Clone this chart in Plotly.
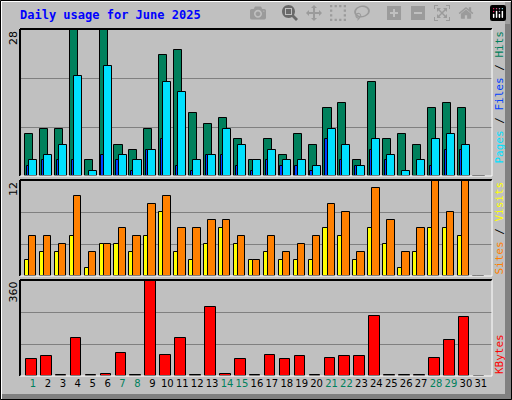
import plotly.graph_objects as go

days = list(range(1, 32))
hits  = [8,9,9,28,3,28,6,5,9,23,24,12,10,11,7,3,7,4,8,6,13,14,3,18,7,8,6,13,14,13,0]
files = [3,4,6,19,1,21,4,3,5,18,16,3,4,9,6,3,5,3,3,2,9,6,2,7,4,1,3,7,8,6,0]
pages = [2,3,3,3,0,4,3,1,5,7,2,1,4,4,2,1,3,2,2,1,7,3,2,5,3,0,0,2,5,5,0]
visits = [5,5,4,10,3,4,6,5,9,10,6,6,7,7,5,2,5,3,4,5,9,8,3,11,7,3,6,12,8,12,0]
sites  = [2,3,3,5,1,4,4,3,5,8,3,2,4,6,4,2,3,2,2,2,6,5,2,6,4,1,3,6,6,5,0]
kbytes = [64,76,2,143,2,8,88,2,360,80,143,2,257,8,64,2,80,64,76,2,68,76,76,226,2,2,2,68,135,222,0]
weekend = {1,7,8,14,15,21,22,28,29}
max_hits, max_visits, max_kb = 28, 12, 360

W, H = 512, 400
L, R, T, B = 20, 20, 29, 24
PW, PH = W - L - R, H - T - B
def px(x): return (x - L) / PW
def py(y): return (H - B - y) / PH

fig = go.Figure()
ln = dict(color="black", width=1)
fig.add_bar(x=days, y=hits, width=0.54, offset=-0.54, marker=dict(color="#00805c", line=ln), xaxis="x", yaxis="y")
fig.add_bar(x=days, y=files, width=0.54, offset=-0.27, marker=dict(color="#00e0ff", line=ln), xaxis="x", yaxis="y")
fig.add_bar(x=days, y=pages, width=0.15, offset=-0.42, marker=dict(color="#0040ff", line=ln), xaxis="x", yaxis="y")
fig.add_bar(x=days, y=sites, width=0.3, offset=-0.54, marker=dict(color="#ffff00", line=ln), xaxis="x2", yaxis="y2")
fig.add_bar(x=days, y=visits, width=0.5, offset=-0.27, marker=dict(color="#ff8000", line=ln), xaxis="x2", yaxis="y2")
fig.add_bar(x=days, y=kbytes, width=0.71, offset=-0.47, marker=dict(color="#ff0000", line=ln), xaxis="x3", yaxis="y3")

xr = [0.13, 31.75]
common_x = dict(range=xr, showgrid=False, zeroline=False, fixedrange=True, automargin=False)
doms = [(py(176), py(29)), (py(276), py(180)), (py(376), py(280))]
maxes = [max_hits, max_visits, max_kb]
grid = dict(showgrid=True, gridcolor="#808080", gridwidth=1, zeroline=False, showticklabels=False, ticks="", automargin=False)
fig.update_layout(
    width=W, height=H, margin=dict(l=L, r=R, t=T, b=B, autoexpand=False),
    paper_bgcolor="#c0c0c0", plot_bgcolor="#c0c0c0",
    barmode="overlay", showlegend=False, bargap=0,
    font=dict(family="DejaVu Sans Mono", size=11, color="black"),
    xaxis=dict(common_x, anchor="y", showticklabels=False),
    xaxis2=dict(common_x, anchor="y2", showticklabels=False, matches="x"),
    xaxis3=dict(common_x, anchor="y3", tickmode="array", tickvals=days, tickangle=0,
                ticktext=[f'<span style="color:{"#00805c" if d in weekend else "black"}">{d}</span>' for d in days],
                ticks="", tickfont=dict(size=10, family="DejaVu Sans")),
    yaxis=dict(grid, domain=doms[0], range=[0, max_hits], tickvals=[max_hits/3, 2*max_hits/3]),
    yaxis2=dict(grid, domain=doms[1], range=[0, max_visits], tickvals=[max_visits/3, 2*max_visits/3]),
    yaxis3=dict(grid, domain=doms[2], range=[0, max_kb], tickvals=[max_kb/3, 2*max_kb/3]),
)

shapes = []
shapes.append(dict(type="rect", xref="paper", yref="paper", x0=px(505), x1=px(512), y0=py(400), y1=py(0), fillcolor="#808080", line=dict(width=0)))
shapes.append(dict(type="rect", xref="paper", yref="paper", x0=px(0), x1=px(512), y0=py(400), y1=py(394), fillcolor="#808080", line=dict(width=0)))
shapes.append(dict(type="line", xref="paper", yref="paper", x0=px(1), x1=px(1), y0=py(399), y1=py(1), line=dict(color="white", width=2)))
shapes.append(dict(type="line", xref="paper", yref="paper", x0=px(1), x1=px(511), y0=py(1), y1=py(1), line=dict(color="white", width=2)))
shapes.append(dict(type="rect", xref="paper", yref="paper", x0=px(0.5), x1=px(511.5), y0=py(399.5), y1=py(0.5), line=dict(color="black", width=1)))
for d0, d1 in doms:
    shapes.append(dict(type="line", xref="paper", yref="paper", x0=0, x1=1, y0=d1, y1=d1, line=dict(color="black", width=2)))
    shapes.append(dict(type="line", xref="paper", yref="paper", x0=0, x1=0, y0=d0, y1=d1, line=dict(color="black", width=2)))
    shapes.append(dict(type="line", xref="paper", yref="paper", x0=1, x1=1, y0=d0, y1=d1, line=dict(color="white", width=1)))
    shapes.append(dict(type="line", xref="paper", yref="paper", x0=0, x1=1, y0=d0, y1=d0, line=dict(color="white", width=1)))
fig.update_layout(shapes=shapes)

ann = [dict(text="<b>Daily usage for June 2025</b>", x=px(18), y=py(15), xref="paper", yref="paper",
            xanchor="left", yanchor="middle", showarrow=False, font=dict(color="#0000ff", size=12, family="DejaVu Sans Mono"))]
for (d0, d1), m in zip(doms, maxes):
    ann.append(dict(text=str(m), x=px(13), y=d1, xref="paper", yref="paper", xanchor="center", yanchor="top",
                    textangle=-90, showarrow=False, font=dict(size=11, family="DejaVu Sans")))
right = [
    ('<span style="color:#00e0ff">Pages</span> / <span style="color:#0040ff">Files</span> / <span style="color:#00805c">Hits</span>', doms[0], "top"),
    ('<span style="color:#ff8000">Sites</span> / <span style="color:#ffff00">Visits</span>', doms[1], "top"),
    ('<span style="color:#ff0000">KBytes</span>', doms[2], "bottom"),
]
for txt, (d0, d1), anc in right:
    ann.append(dict(text=txt, x=px(499), y=d1 if anc == "top" else d0, xref="paper", yref="paper",
                    xanchor="center", yanchor=anc, textangle=-90, showarrow=False,
                    font=dict(size=11, family="DejaVu Sans Mono")))
fig.update_layout(annotations=ann)
fig.write_html("out.html")

with open("out.html", encoding="utf-8") as f:
    html = f.read()
html = html.replace("<head>", "<head><style>html,body{margin:0;padding:0;overflow:hidden}</style>", 1)
with open("out.html", "w", encoding="utf-8") as f:
    f.write(html)
